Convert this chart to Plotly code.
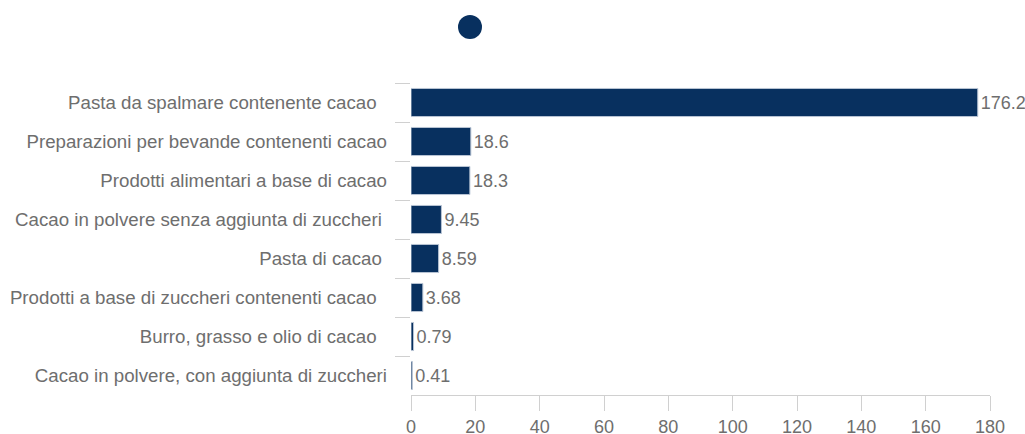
import plotly.graph_objects as go

categories = [
    "Pasta da spalmare contenente cacao\u00a0\u00a0",
    "Preparazioni per bevande contenenti cacao",
    "Prodotti alimentari a base di cacao",
    "Cacao in polvere senza aggiunta di zuccheri\u00a0",
    "Pasta di cacao\u00a0",
    "Prodotti a base di zuccheri contenenti cacao\u00a0\u00a0",
    "Burro, grasso e olio di cacao\u00a0\u00a0",
    "Cacao in polvere, con aggiunta di zuccheri",
]
values = [176.2, 18.6, 18.3, 9.45, 8.59, 3.68, 0.79, 0.41]
value_labels = ["176.2", "18.6", "18.3", "9.45", "8.59", "3.68", "0.79", "0.41"]
x_ticks = [0, 20, 40, 60, 80, 100, 120, 140, 160, 180]

BAR = "#08305f"
GREY_TEXT = "#6e6e6e"
AXIS = "#d0d0d0"
FONT = "Liberation Sans, Arial, sans-serif"

fig = go.Figure()
fig.add_trace(go.Bar(
    x=values,
    y=categories,
    orientation="h",
    marker=dict(color=BAR, line=dict(color="#b8c4d4", width=1)),
    text=value_labels,
    textposition="outside",
    textfont=dict(color=GREY_TEXT, size=18, family=FONT),
    cliponaxis=False,
    showlegend=False,
))

fig.update_layout(
    width=1025,
    height=434,
    margin=dict(l=411, r=35, t=83, b=39),
    paper_bgcolor="white",
    plot_bgcolor="white",
    bargap=0.28,
    font=dict(family=FONT, size=18, color=GREY_TEXT),
    xaxis=dict(
        range=[0, 180],
        tickvals=x_ticks,
        ticks="outside",
        ticklen=15,
        tickcolor=AXIS,
        showline=True,
        linecolor=AXIS,
        linewidth=1,
        showgrid=False,
        zeroline=False,
        automargin=False,
        tickfont=dict(size=18, color=GREY_TEXT),
    ),
    yaxis=dict(
        categoryorder="array",
        categoryarray=categories,
        autorange="reversed",
        ticks="outside",
        tickson="boundaries",
        ticklen=15,
        tickcolor=AXIS,
        showline=False,
        showgrid=False,
        zeroline=False,
        automargin=False,
        ticklabelstandoff=23,
        tickfont=dict(size=18.7, color=GREY_TEXT),
    ),
    shapes=[dict(
        type="circle",
        xref="paper", yref="paper",
        xsizemode="pixel", ysizemode="pixel",
        xanchor=(470 - 411) / 579, yanchor=(395 - 27) / 312,
        x0=-12, x1=12, y0=-12, y1=12,
        fillcolor=BAR, line=dict(width=0),
    )],
)

fig.write_html("out.html")
